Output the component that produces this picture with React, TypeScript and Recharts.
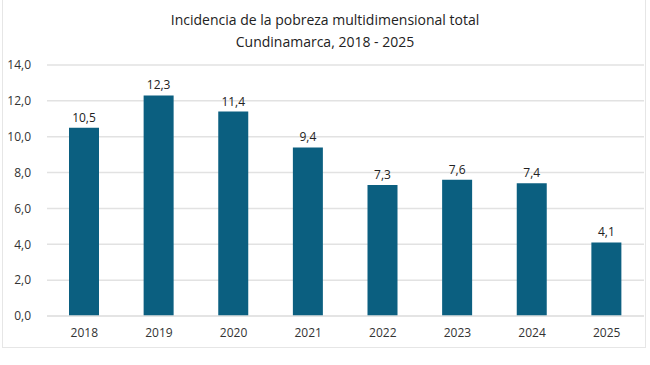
import { BarChart, Bar, XAxis, YAxis, CartesianGrid, LabelList } from "recharts";

const years = ["2018", "2019", "2020", "2021", "2022", "2023", "2024", "2025"];
const incidence = [10.5, 12.3, 11.4, 9.4, 7.3, 7.6, 7.4, 4.1];
const yTicks = [0, 2, 4, 6, 8, 10, 12, 14];

const data = years.map((year, i) => ({ year, value: incidence[i] }));

const comma = (v: number) => Number(v).toFixed(1).replace(".", ",");

const font = "'Open Sans', 'DejaVu Sans', sans-serif";

export default function App() {
  return (
    <div style={{ position: "absolute", left: 0, top: 0, width: 650, height: 365, background: "#fff", fontFamily: font }}>
      <div
        style={{
          position: "absolute",
          left: 2,
          top: -2,
          width: 644,
          height: 350,
          border: "1px solid #e6e6e6",
          boxSizing: "border-box",
        }}
      />
      <div
        style={{
          position: "absolute",
          left: 0,
          top: 9,
          width: 650,
          textAlign: "center",
          fontSize: 14,
          lineHeight: "22px",
          color: "#222",
        }}
      >
        Incidencia de la pobreza multidimensional total
        <br />
        Cundinamarca, 2018 - 2025
      </div>
      <div style={{ position: "absolute", left: 0, top: 0 }}>
        <BarChart width={650} height={365} data={data} margin={{ top: 65, right: 6, bottom: 19, left: 0 }}>
          <CartesianGrid vertical={false} stroke="#e2e2e2" strokeWidth={1.5} />
          <XAxis
            dataKey="year"
            height={30}
            axisLine={{ stroke: "#e2e2e2", strokeWidth: 1.5 }}
            tickLine={false}
            tick={{ fill: "#333", fontSize: 12, fontFamily: font }}
            tickMargin={6}
          />
          <YAxis
            width={47}
            domain={[0, 14]}
            ticks={yTicks}
            tickFormatter={comma}
            axisLine={false}
            tickLine={false}
            tick={{ fill: "#333", fontSize: 12, fontFamily: font }}
            tickMargin={10}
          />
          <Bar dataKey="value" fill="#0b5f80" barSize={30} isAnimationActive={false}>
            <LabelList
              dataKey="value"
              position="top"
              offset={6}
              formatter={(v: any) => comma(v)}
              style={{ fill: "#222", fontSize: 12, fontFamily: font }}
            />
          </Bar>
        </BarChart>
      </div>
    </div>
  );
}
